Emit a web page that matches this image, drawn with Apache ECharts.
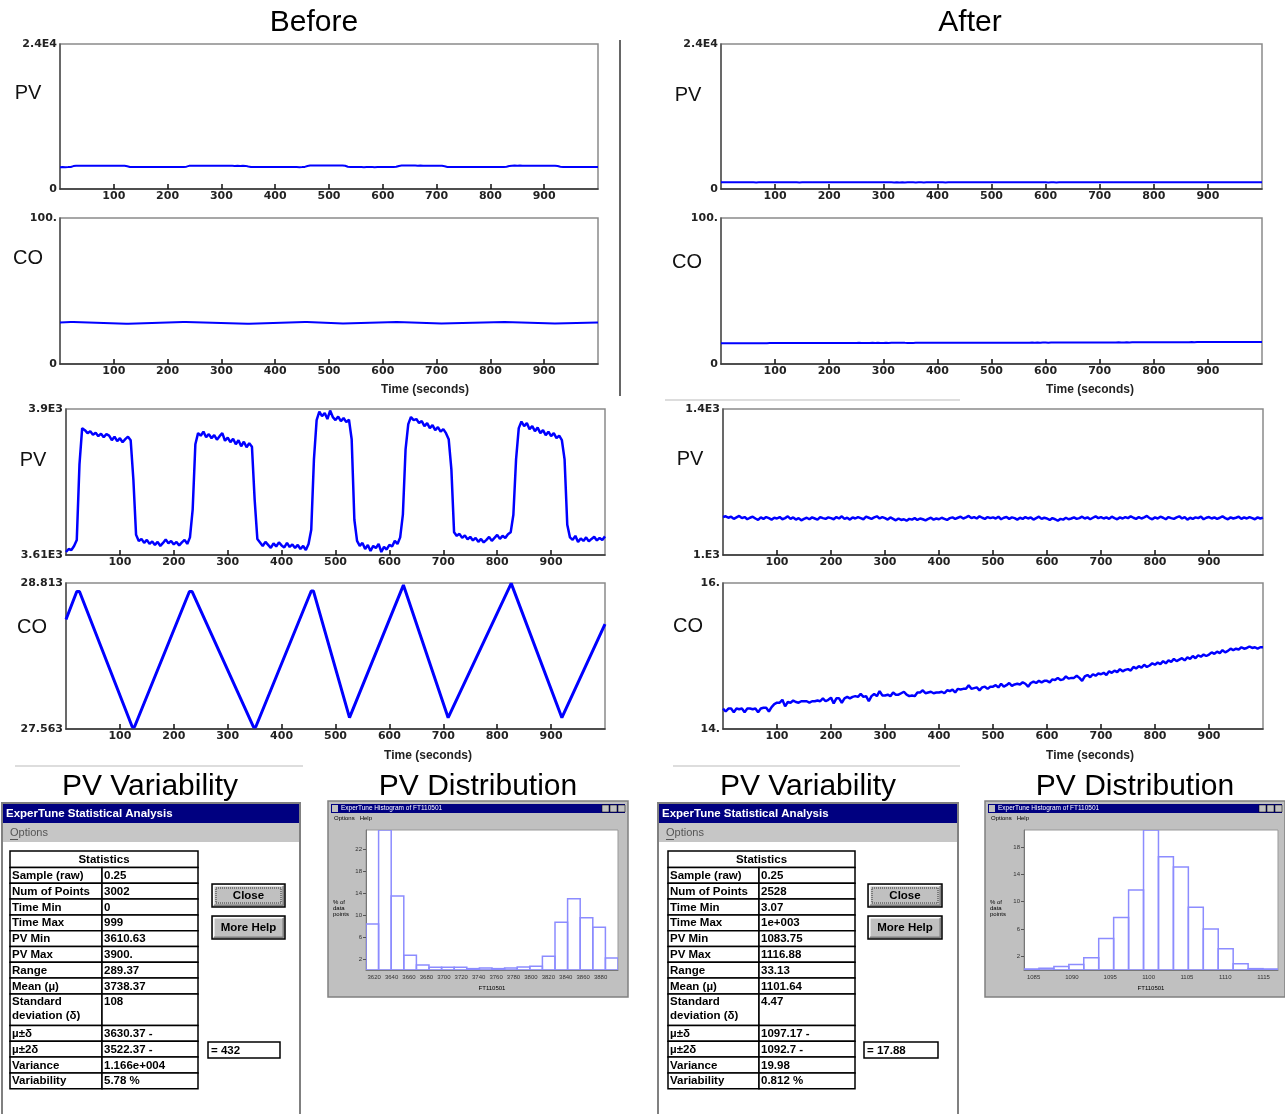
<!DOCTYPE html>
<html><head><meta charset="utf-8">
<script src="https://cdn.jsdelivr.net/npm/echarts@6/dist/echarts.min.js"></script>
<style>html,body{margin:0;padding:0;background:#fff}#c{width:1285px;height:1114px}</style>
</head><body><div id="c"></div>
<script>
// ---------------- DATA ----------------
const sampleStep = 5; // seconds between plotted samples
const pvBefore = [
3616,3622,3620,3628,3640,3790,3862,3858,3852,3856,
3849,3853,3846,3851,3844,3850,3847,3838,3845,3836,
3842,3834,3840,3845,3838,3760,3650,3638,3642,3634,
3640,3632,3637,3630,3636,3628,3634,3641,3633,3638,
3631,3636,3629,3635,3640,3632,3645,3700,3830,3852,
3847,3855,3844,3850,3842,3848,3839,3846,3852,3837,
3843,3834,3841,3830,3838,3826,3835,3824,3832,3825,
3720,3642,3635,3628,3636,3630,3624,3633,3627,3635,
3629,3625,3634,3626,3631,3624,3630,3622,3628,3620,
3632,3660,3800,3878,3895,3886,3892,3880,3897,3884,
3878,3885,3876,3882,3874,3879,3840,3680,3638,3628,
3634,3622,3630,3618,3628,3624,3632,3616,3626,3621,
3630,3627,3638,3632,3645,3690,3820,3870,3884,3878,
3880,3872,3876,3866,3872,3862,3868,3858,3864,3855,
3860,3852,3840,3780,3655,3648,3652,3644,3649,3641,
3646,3639,3644,3636,3642,3635,3640,3646,3638,3644,
3650,3642,3648,3644,3651,3655,3690,3800,3862,3875,
3866,3872,3860,3866,3856,3863,3852,3858,3848,3855,
3846,3852,3842,3847,3838,3800,3670,3645,3640,3648,
3636,3643,3638,3645,3637,3642,3646,3639,3644,3640,
3647];
const coBeforeTimes  = [0, 20, 25, 123, 127, 229, 234, 348, 352, 455, 459, 526, 529, 626, 629, 709, 712, 826, 829, 920, 923, 1000];
const coBeforeValues = [28.50, 28.74, 28.74, 27.58, 27.58, 28.74, 28.74, 27.58, 27.58, 28.745, 28.745, 27.66, 27.66, 28.795, 28.795, 27.66, 27.66, 28.81, 28.81, 27.66, 27.66, 28.46];
const pvAfter = [
1104,1106,1102,1105,1099,1103,1107,1101,1104,1098,
1102,1105,1100,1096,1103,1099,1104,1101,1097,1102,
1100,1104,1098,1101,1106,1099,1103,1097,1101,1095,
1099,1102,1098,1103,1100,1097,1104,1101,1099,1103,
1101,1098,1104,1100,1106,1099,1102,1097,1103,1100,
1104,1101,1098,1105,1102,1099,1103,1106,1100,1104,
1101,1097,1103,1099,1095,1100,1096,1098,1094,1099,
1097,1101,1096,1100,1098,1095,1099,1102,1097,1100,
1098,1102,1099,1096,1101,1103,1099,1102,1105,1100,
1103,1107,1101,1104,1100,1106,1102,1099,1104,1101,
1103,1100,1105,1098,1102,1104,1099,1103,1101,1097,
1102,1099,1104,1100,1103,1097,1101,1105,1099,1102,
1100,1096,1101,1098,1094,1099,1097,1102,1098,1100,
1103,1099,1101,1105,1100,1103,1098,1102,1106,1101,
1104,1100,1103,1099,1105,1101,1098,1103,1100,1104,
1101,1106,1102,1099,1104,1100,1103,1107,1101,1098,
1103,1100,1105,1102,1098,1104,1101,1099,1103,1106,
1100,1104,1097,1102,1099,1103,1101,1105,1098,1102,
1104,1100,1103,1099,1102,1106,1101,1098,1103,1100,
1102,1105,1099,1103,1100,1104,1101,1098,1103,1100,
1102];
const coAfter = [
14.28,14.24,14.28,14.28,14.23,14.28,14.27,14.28,14.23,14.28,
14.28,14.27,14.28,14.23,14.28,14.29,14.29,14.24,14.30,14.34,
14.36,14.36,14.40,14.31,14.37,14.36,14.39,14.37,14.36,14.38,
14.38,14.38,14.36,14.38,14.38,14.39,14.38,14.42,14.38,14.40,
14.43,14.35,14.42,14.42,14.36,14.42,14.44,14.42,14.44,14.45,
14.44,14.48,14.44,14.45,14.38,14.45,14.48,14.45,14.52,14.46,
14.46,14.47,14.45,14.50,14.47,14.47,14.49,14.51,14.47,14.45,
14.46,14.45,14.50,14.50,14.53,14.49,14.50,14.51,14.49,14.50,
14.50,14.51,14.49,14.53,14.52,14.54,14.50,14.55,14.54,14.55,
14.55,14.60,14.55,14.56,14.57,14.53,14.57,14.58,14.55,14.58,
14.58,14.60,14.57,14.62,14.58,14.60,14.63,14.59,14.61,14.62,
14.61,14.64,14.62,14.58,14.63,14.65,14.63,14.66,14.64,14.66,
14.66,14.64,14.68,14.67,14.70,14.67,14.68,14.72,14.69,14.70,
14.70,14.73,14.70,14.66,14.72,14.74,14.71,14.75,14.73,14.76,
14.75,14.77,14.74,14.79,14.77,14.80,14.78,14.82,14.79,14.81,
14.82,14.80,14.85,14.83,14.86,14.84,14.88,14.85,14.87,14.90,
14.88,14.91,14.89,14.93,14.90,14.94,14.92,14.96,14.93,14.95,
14.97,14.94,14.98,14.96,15.00,14.97,15.01,14.99,15.02,15.00,
15.02,15.05,15.03,15.06,15.04,15.08,15.05,15.07,15.10,15.08,
15.10,15.09,15.12,15.10,15.11,15.13,15.11,15.12,15.10,15.12,
15.12];
const timeTicks = [100,200,300,400,500,600,700,800,900];

// histogram (percent of data points per bin)
const histBeforeRange = [3610.63, 3900];
const histBeforePct = [8.4,25.5,13.5,2.7,0.9,0.5,0.5,0.5,0.25,0.35,0.25,0.35,0.55,0.7,2.5,8.7,13.0,9.5,7.8,2.2];
const histBeforeXTicks = [3620,3640,3660,3680,3700,3720,3740,3760,3780,3800,3820,3840,3860,3880];
const histBeforeYTicks = [2,6,10,14,18,22];
const histAfterRange = [1083.75, 1116.88];
const histAfterPct = [0.15,0.25,0.5,0.8,1.8,4.6,7.7,11.7,20.5,16.6,15.1,9.2,6.0,3.1,0.9,0.2,0.15];
const histAfterXTicks = [1085,1090,1095,1100,1105,1110,1115];
const histAfterYTicks = [2,6,10,14,18];

// statistics tables
const statLabels = ['Sample (raw)','Num of Points','Time Min','Time Max','PV Min','PV Max','Range','Mean (µ)','Standard\ndeviation (δ)','µ±δ','µ±2δ','Variance','Variability'];
const statRowSpan = [1,1,1,1,1,1,1,1,2,1,1,1,1];
const statsBefore = ['0.25','3002','0','999','3610.63','3900.','289.37','3738.37','108','3630.37 -','3522.37 -','1.166e+004','5.78 %'];
const statsAfter  = ['0.25','2528','3.07','1e+003','1083.75','1116.88','33.13','1101.64','4.47','1097.17 -','1092.7 -','19.98','0.812 %'];
const boxBefore = '= 432';
const boxAfter = '= 17.88';

// ---------------- BUILD ----------------
const F_UI = '"Liberation Sans", Arial, sans-serif';
const F_TICK = '"DejaVu Sans", sans-serif';
const BLUE = '#0000ff';

function pts(vals){ return vals.map((v,i)=>[i*sampleStep, v]); }
const coBeforePts = coBeforeTimes.map((t,i)=>[t, coBeforeValues[i]]);

const grids = [
  {left:60,  top:44,  width:538, height:145},
  {left:60,  top:218, width:538, height:146},
  {left:721, top:44,  width:541, height:145},
  {left:721, top:218, width:541, height:146},
  {left:66,  top:409, width:539, height:146},
  {left:66,  top:583, width:539, height:146},
  {left:723, top:409, width:540, height:146},
  {left:723, top:583, width:540, height:146},
  {left:366, top:830, width:252, height:140},
  {left:1024,top:830, width:254, height:140}
].map((g,i)=>Object.assign({show:true, backgroundColor:'#fff', borderColor:i>=8?'#999':'#8a8a8a', borderWidth:i>=8?1:1.5, containLabel:false}, g));

function timeX(gi){
  return {type:'value', gridIndex:gi, min:0, max:1000,
    axisLine:{show:true, onZero:false, lineStyle:{color:'#333', width:1.5}},
    axisTick:{show:true, inside:true, length:5, customValues:timeTicks, lineStyle:{color:'#111', width:1.5}},
    axisLabel:{customValues:timeTicks, margin:2, fontSize:11, fontWeight:'bold', color:'#222', fontFamily:F_TICK},
    splitLine:{show:false}};
}
function valY(gi, min, max, texts){
  return {type:'value', gridIndex:gi, min:min, max:max,
    axisLine:{show:true, onZero:false, lineStyle:{color:'#555', width:1.5}},
    axisTick:{show:false}, splitLine:{show:false},
    axisLabel:{customValues:[min,max], formatter:(v)=> (Math.abs(v-max)<1e-9 ? texts[1] : texts[0]),
      margin:3, fontSize:11, fontWeight:'bold', color:'#222', fontFamily:F_TICK}};
}
function histX(gi, range, ticks){
  return {type:'value', gridIndex:gi, min:range[0], max:range[1],
    axisLine:{show:true, onZero:false, lineStyle:{color:'#777', width:1}},
    axisTick:{show:false},
    axisLabel:{customValues:ticks, formatter:(v)=>String(Math.round(v)), margin:4, fontSize:6, color:'#333', fontFamily:F_UI},
    splitLine:{show:false}};
}
function histY(gi, max, ticks){
  return {type:'value', gridIndex:gi, min:0, max:max,
    axisLine:{show:true, onZero:false, lineStyle:{color:'#777', width:1}},
    axisTick:{show:true, customValues:ticks, length:3, lineStyle:{color:'#555'}},
    axisLabel:{customValues:ticks, formatter:(v)=>String(Math.round(v)), margin:4, fontSize:6, color:'#333', fontFamily:F_UI},
    splitLine:{show:false}};
}

const xAxes = [0,1,2,3,4,5,6,7].map(timeX).concat([histX(8, histBeforeRange, histBeforeXTicks), histX(9, histAfterRange, histAfterXTicks)]);
const yAxes = [
  valY(0, 0, 24000, ['0','2.4E4']),
  valY(1, 0, 100, ['0','100.']),
  valY(2, 0, 24000, ['0','2.4E4']),
  valY(3, 0, 100, ['0','100.']),
  valY(4, 3610, 3900, ['3.61E3','3.9E3']),
  valY(5, 27.563, 28.813, ['27.563','28.813']),
  valY(6, 1000, 1400, ['1.E3','1.4E3']),
  valY(7, 14, 16, ['14.','16.']),
  histY(8, 25.5, histBeforeYTicks),
  histY(9, 20.5, histAfterYTicks)
];

function lineSeries(ai, data, w){
  return {type:'line', xAxisIndex:ai, yAxisIndex:ai, data:data, showSymbol:false, silent:true,
    lineStyle:{color:BLUE, width:w}, clip:true};
}
function histSeries(ai, range, pct){
  const n = pct.length, bw = (range[1]-range[0])/n;
  return {type:'custom', xAxisIndex:ai, yAxisIndex:ai, silent:true, clip:true,
    data: pct.map((p,i)=>[range[0]+i*bw, p, range[0]+(i+1)*bw]),
    encode:{x:[0,2], y:1},
    renderItem:(params, api)=>{
      const a = api.coord([api.value(0), 0]);
      const b = api.coord([api.value(2), api.value(1)]);
      return {type:'rect', shape:{x:a[0], y:b[1], width:b[0]-a[0], height:a[1]-b[1]},
        style:{fill:'none', stroke:'#8c8cff', lineWidth:1.5}};
    }};
}

const series = [
  lineSeries(0, pts(pvBefore), 2),
  lineSeries(1, coBeforePts, 2),
  lineSeries(2, pts(pvAfter), 2),
  lineSeries(3, pts(coAfter), 2),
  lineSeries(4, pts(pvBefore), 2.5),
  lineSeries(5, coBeforePts, 3),
  lineSeries(6, pts(pvAfter), 2.5),
  lineSeries(7, pts(coAfter), 2.5),
  histSeries(8, histBeforeRange, histBeforePct),
  histSeries(9, histAfterRange, histAfterPct)
];

// ---------- graphic helpers ----------
const G = [];
function txt(x, y, s, size, o){
  o = o || {};
  G.push({type:'text', x:x, y:y, silent:true, z:(o.z!==undefined?o.z:10),
    style:{text:s, fill:o.color||'#000', font:(o.weight||'normal')+' '+size+'px '+(o.family||F_UI),
      textAlign:o.align||'left', textVerticalAlign:o.valign||'middle'}});
}
function rect(x, y, w, h, fill, stroke, lw, z, dash){
  G.push({type:'rect', silent:true, z:(z!==undefined?z:1), shape:{x:x, y:y, width:w, height:h},
    style:{fill:fill||'none', stroke:stroke||null, lineWidth:lw||1, lineDash:dash||null}});
}
function ln(x1, y1, x2, y2, c, w, z){
  G.push({type:'line', silent:true, z:(z!==undefined?z:2), shape:{x1:x1, y1:y1, x2:x2, y2:y2}, style:{stroke:c, lineWidth:w}});
}

// titles & axis names
txt(314, 23, 'Before', 30, {align:'center'});
txt(970, 23, 'After', 30, {align:'center'});
[[28,93,'PV'],[28,258,'CO'],[688,95,'PV'],[687,262,'CO'],[33,460,'PV'],[32,627,'CO'],[690,459,'PV'],[688,626,'CO']]
  .forEach(a=>txt(a[0], a[1], a[2], 20, {align:'center', color:'#111'}));
[[425,390],[1090,390],[428,756],[1090,756]].forEach(a=>txt(a[0], a[1], 'Time (seconds)', 12, {align:'center', weight:'bold', color:'#222'}));
txt(150, 787, 'PV Variability', 30, {align:'center'});
txt(478, 787, 'PV Distribution', 30, {align:'center'});
txt(808, 787, 'PV Variability', 30, {align:'center'});
txt(1135, 787, 'PV Distribution', 30, {align:'center'});

// separators
ln(620, 40, 620, 396, '#666', 2);
ln(665, 400, 960, 400, '#ddd', 2);
ln(15, 766, 303, 766, '#ddd', 2);
ln(673, 766, 960, 766, '#ddd', 2);

// histogram windows
function histWindow(x0, y0, w, h, gridRect){
  rect(x0, y0, w, h, '#c0c0c0', '#808080', 1.5, -10);
  rect(x0+3, y0+3, w-6, 9, '#000080', null, 1, -9);
  rect(x0+4, y0+4, 6, 7, '#c0c0c0', null, 1, -8);
  txt(x0+13, y0+7.5, 'ExperTune Histogram of FT110501', 6.5, {color:'#fff', z:-8});
  [26,18,10].forEach(d=>rect(x0+w-d, y0+4, 7, 7, '#c0c0c0', '#000', 0.5, -8));
  txt(x0+6, y0+17, 'Options   Help', 6, {z:-8});
  txt(x0+5, 902, '% of', 6, {z:-8});
  txt(x0+5, 908, 'data', 6, {z:-8});
  txt(x0+5, 914, 'points', 6, {z:-8});
  txt(gridRect.left + gridRect.width/2, y0+187, 'FT110501', 6, {align:'center', z:-8});
}
histWindow(328, 801, 300, 196, grids[8]);
histWindow(985, 801, 300, 196, grids[9]);

// statistics windows
function button(x, y, w, h, label, focus){
  rect(x, y, w, h, '#c0c0c0', '#000', 1.5, 3);
  ln(x+1.5, y+1.8, x+w-2, y+1.8, '#fff', 1.5, 4);
  ln(x+1.8, y+1.5, x+1.8, y+h-2, '#fff', 1.5, 4);
  ln(x+2, y+h-1.8, x+w-1.5, y+h-1.8, '#808080', 1.5, 4);
  ln(x+w-1.8, y+2, x+w-1.8, y+h-1.5, '#808080', 1.5, 4);
  if (focus) rect(x+4, y+4, w-8, h-8, 'none', '#333', 1, 5, [1,1]);
  txt(x+w/2, y+h/2+0.5, label, 11.5, {align:'center', weight:'bold', z:6});
}
function statsWindow(o, values, boxText){
  rect(o.x0, 803, o.x1-o.x0, 330, '#fff', '#808080', 2, 1);
  rect(o.x0+1, 804, o.x1-o.x0-2, 19, '#000080', null, 1, 2);
  txt(o.x0+4, 813.5, 'ExperTune Statistical Analysis', 11.5, {weight:'bold', color:'#fff'});
  rect(o.x0+1, 823, o.x1-o.x0-2, 19, '#c6c6c6', null, 1, 2);
  txt(o.x0+8, 833, 'Options', 11, {color:'#555'});
  ln(o.x0+8, 839.5, o.x0+16, 839.5, '#555', 1, 3);
  // header
  rect(o.tx, 851, o.tr-o.tx, 16.5, '#fff', '#000', 1.5, 3);
  txt((o.tx+o.tr)/2, 859.5, 'Statistics', 11.5, {align:'center', weight:'bold'});
  const rh = 15.8; let y = 867.5;
  statLabels.forEach((lab, i)=>{
    const h = rh*statRowSpan[i];
    rect(o.tx, y, o.cx-o.tx, h, '#fff', '#000', 1.5, 3);
    rect(o.cx, y, o.tr-o.cx, h, '#fff', '#000', 1.5, 3);
    const lines = lab.split('\n');
    if (lines.length === 1) {
      txt(o.tx+2, y+h/2+0.5, lab, 11.5, {weight:'bold'});
      txt(o.cx+2, y+h/2+0.5, values[i], 11.5, {weight:'bold'});
    } else {
      txt(o.tx+2, y+8, lines[0], 11.5, {weight:'bold'});
      txt(o.tx+2, y+22, lines[1], 11.5, {weight:'bold'});
      txt(o.cx+2, y+8, values[i], 11.5, {weight:'bold'});
    }
    y += h;
  });
  button(o.bx, 884, o.br-o.bx, 23, 'Close', true);
  button(o.bx, 916, o.br-o.bx, 23, 'More Help', false);
  rect(o.ox, 1042, o.or-o.ox, 16, '#fff', '#000', 1.5, 3);
  txt(o.ox+3, 1050.5, boxText, 11.5, {weight:'bold'});
}
statsWindow({x0:2, x1:300, tx:10, cx:102, tr:198, bx:212, br:285, ox:208, or:280}, statsBefore, boxBefore);
statsWindow({x0:658, x1:958, tx:668, cx:759, tr:855, bx:868, br:942, ox:864, or:938}, statsAfter, boxAfter);

const chart = echarts.init(document.getElementById('c'), null, {renderer:'canvas'});
chart.setOption({
  animation:false,
  backgroundColor:'#fff',
  grid: grids,
  xAxis: xAxes,
  yAxis: yAxes,
  series: series,
  graphic: {elements: G}
});
</script>
</body></html>
